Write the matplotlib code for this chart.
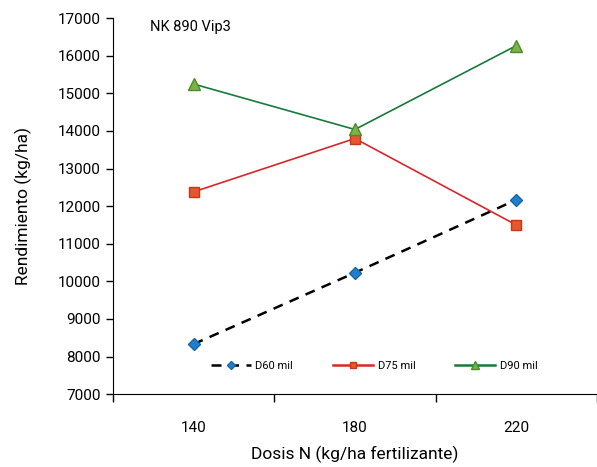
import numpy as np
import matplotlib.pyplot as plt

plt.rcParams['font.family'] = ['Roboto', 'DejaVu Sans']

dosis = ["140", "180", "220"]
d60 = [8330, 10230, 12170]
d75 = [12380, 13800, 11500]
d90 = [15250, 14040, 16270]

fig = plt.figure(figsize=(5.97, 4.67), dpi=100)
ax = fig.add_axes([0.189, 0.156, 0.811, 0.805])

x = np.arange(len(dosis))
ax.plot(x, d60, color="black", ls=(0, (4, 3)), lw=1.8, marker="D", ms=6,
        mfc="#1f7fcc", mec="#1565a8", label="D60 mil")
ax.plot(x, d75, color="#d9262b", lw=1.2, marker="s", ms=7,
        mfc="#e8562c", mec="#c23a1c", label="D75 mil")
ax.plot(x, d90, color="#187a3a", lw=1.2, marker="^", ms=8,
        mfc="#7bb346", mec="#4e8a2a", label="D90 mil")

ax.set_xlim(-0.5, 2.5)
ax.set_ylim(7000, 17000)
ax.set_yticks(np.arange(7000, 17001, 1000))
ax.set_xticks(x)
ax.set_xticklabels(dosis)
ax.set_xticks([-0.5, 0.5, 1.5, 2.5], minor=True)
ax.tick_params(axis="x", which="major", length=0, pad=19, labelsize=11)
ax.tick_params(axis="x", which="minor", length=6, width=1)
ax.tick_params(axis="y", length=5, width=1, labelsize=11)
ax.spines["top"].set_visible(False)
ax.spines["right"].set_visible(False)

ax.set_xlabel("Dosis N (kg/ha fertilizante)", fontsize=12.5, labelpad=8)
ax.set_ylabel("Rendimiento (kg/ha)", fontsize=12.5, labelpad=19)
ax.text(0.077, 0.995, "NK 890 Vip3", transform=ax.transAxes, fontsize=10.5,
        va="top", ha="left")

leg = ax.legend(loc="center", bbox_to_anchor=(0.54, 0.074), ncol=3, frameon=False,
                fontsize=8, handlelength=3.6, columnspacing=3.6, handletextpad=0.4,
                markerscale=0.7)
for h in leg.get_lines():
    h.set_linewidth(1.8)

fig.savefig("out.png", dpi=100)
